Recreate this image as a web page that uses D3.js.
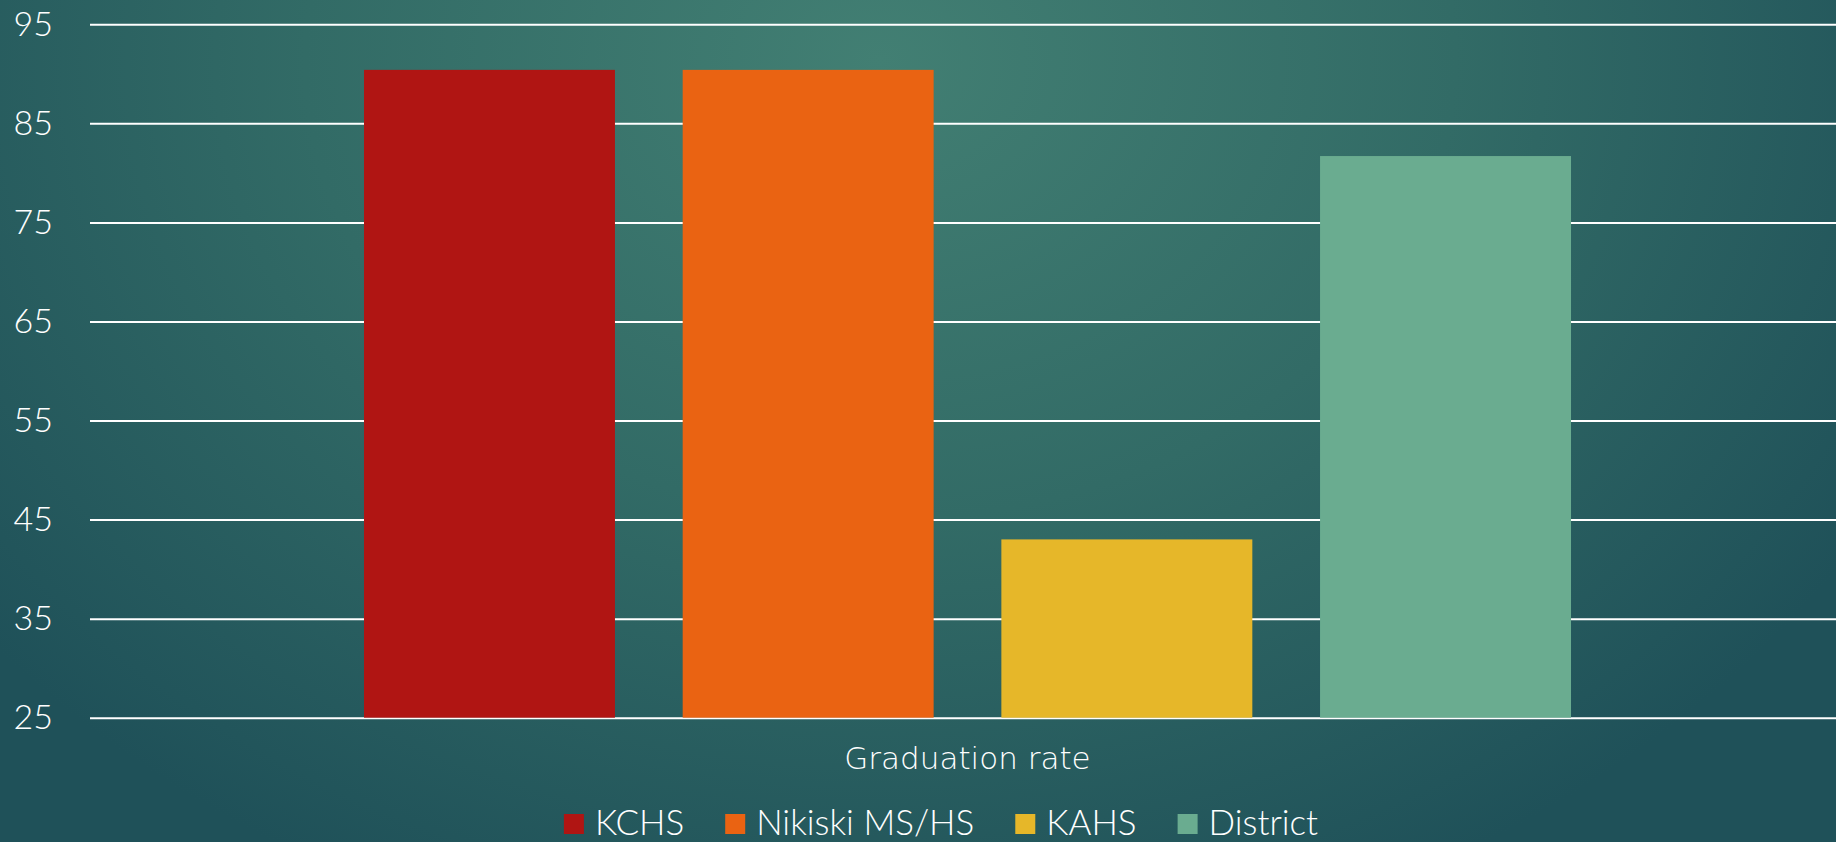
<!DOCTYPE html>
<html>
<head>
<meta charset="utf-8">
<script src="https://cdn.jsdelivr.net/npm/d3@7"></script>
<style>
  html, body { margin: 0; padding: 0; overflow: hidden; }
  svg { display: block; }
</style>
</head>
<body>
<svg id="chart"></svg>
<script>
var categories = ["Graduation rate"]
var seriesNames = ["KCHS", "Nikiski MS/HS", "KAHS", "District"]
var seriesValues = [90.4, 90.4, 43, 81.7]
var seriesColors = ["#B01513", "#EA6312", "#E6B729", "#6AAC90"]
var yTicks = [25, 35, 45, 55, 65, 75, 85, 95]

var dimensions = {
    width: 1836,
    height: 842,
    margin: { top: 24.3, bottom: 124.3, left: 90, right: -9 }
}

var svg = d3.select("#chart")
    .attr("width", dimensions.width)
    .attr("height", dimensions.height)

// background
var defs = svg.append("defs")
var grad = defs.append("radialGradient")
    .attr("id", "bg")
    .attr("gradientUnits", "userSpaceOnUse")
    .attr("cx", 880).attr("cy", 60)
    .attr("r", 1150)
    .attr("gradientTransform", "translate(880,60) scale(1,0.8) translate(-880,-60)")
grad.append("stop").attr("offset", "0%").attr("stop-color", "#427f73")
grad.append("stop").attr("offset", "50%").attr("stop-color", "#326b66")
grad.append("stop").attr("offset", "100%").attr("stop-color", "#1f5159")

svg.append("rect")
    .attr("width", dimensions.width)
    .attr("height", dimensions.height)
    .attr("fill", "url(#bg)")

var yScale = d3.scaleLinear()
    .domain([25, 95])
    .range([dimensions.height - dimensions.margin.bottom, dimensions.margin.top])

var x0 = d3.scaleBand()
    .domain(categories)
    .range([dimensions.margin.left, dimensions.width - dimensions.margin.right])
    .paddingInner(0)
    .paddingOuter(0.227)

var x1 = d3.scaleBand()
    .domain(seriesNames)
    .range([0, x0.bandwidth()])
    .paddingInner(0.2125)
    .paddingOuter(0)

var color = d3.scaleOrdinal()
    .domain(seriesNames)
    .range(seriesColors)

// gridlines + tick labels
var yAxis = d3.axisLeft(yScale)
    .tickValues(yTicks)
    .tickSize(-(dimensions.width - dimensions.margin.left))
    .tickPadding(37)
    .tickFormat(d3.format("d"))

var yG = svg.append("g")
    .attr("transform", "translate(" + dimensions.margin.left + ",0)")
    .call(yAxis)
yG.select(".domain").remove()
yG.selectAll(".tick line")
    .attr("stroke", "#ffffff")
    .attr("stroke-width", 2)
yG.selectAll(".tick text")
    .attr("fill", "#ffffff")
    .attr("font-family", "Lato, sans-serif")
    .attr("font-weight", 300)
    .attr("font-size", "34px")

// bars
var rows = seriesNames.map(function (s, i) {
    return { category: categories[0], series: s, value: seriesValues[i] }
})

svg.append("g")
    .selectAll("rect")
    .data(rows)
    .enter()
    .append("rect")
    .attr("x", d => x0(d.category) + x1(d.series))
    .attr("y", d => yScale(d.value))
    .attr("width", x1.bandwidth())
    .attr("height", d => yScale(25) - yScale(d.value))
    .attr("fill", d => color(d.series))

// category label
svg.append("text")
    .attr("x", x0(categories[0]) + x0.bandwidth() / 2)
    .attr("y", 769)
    .attr("text-anchor", "middle")
    .attr("fill", "#ffffff")
    .attr("font-family", "'DejaVu Sans', sans-serif")
    .attr("font-weight", 200)
    .attr("font-size", "31px")
    .text(categories[0])

// legend
var legend = svg.append("g")
var lx = 0
seriesNames.forEach(function (s) {
    var item = legend.append("g").attr("transform", "translate(" + lx + ",0)")
    item.append("rect")
        .attr("x", 0)
        .attr("y", 814)
        .attr("width", 20)
        .attr("height", 20)
        .attr("fill", color(s))
    var t = item.append("text")
        .attr("x", 31)
        .attr("y", 835)
        .attr("fill", "#ffffff")
        .attr("font-family", "Lato, sans-serif")
        .attr("font-weight", 300)
        .attr("font-size", "35px")
        .text(s)
    lx += 31 + t.node().getComputedTextLength() + 41
})
var legendWidth = lx - 41
legend.attr("transform", "translate(" + (941 - legendWidth / 2) + ",0)")
</script>
</body>
</html>
